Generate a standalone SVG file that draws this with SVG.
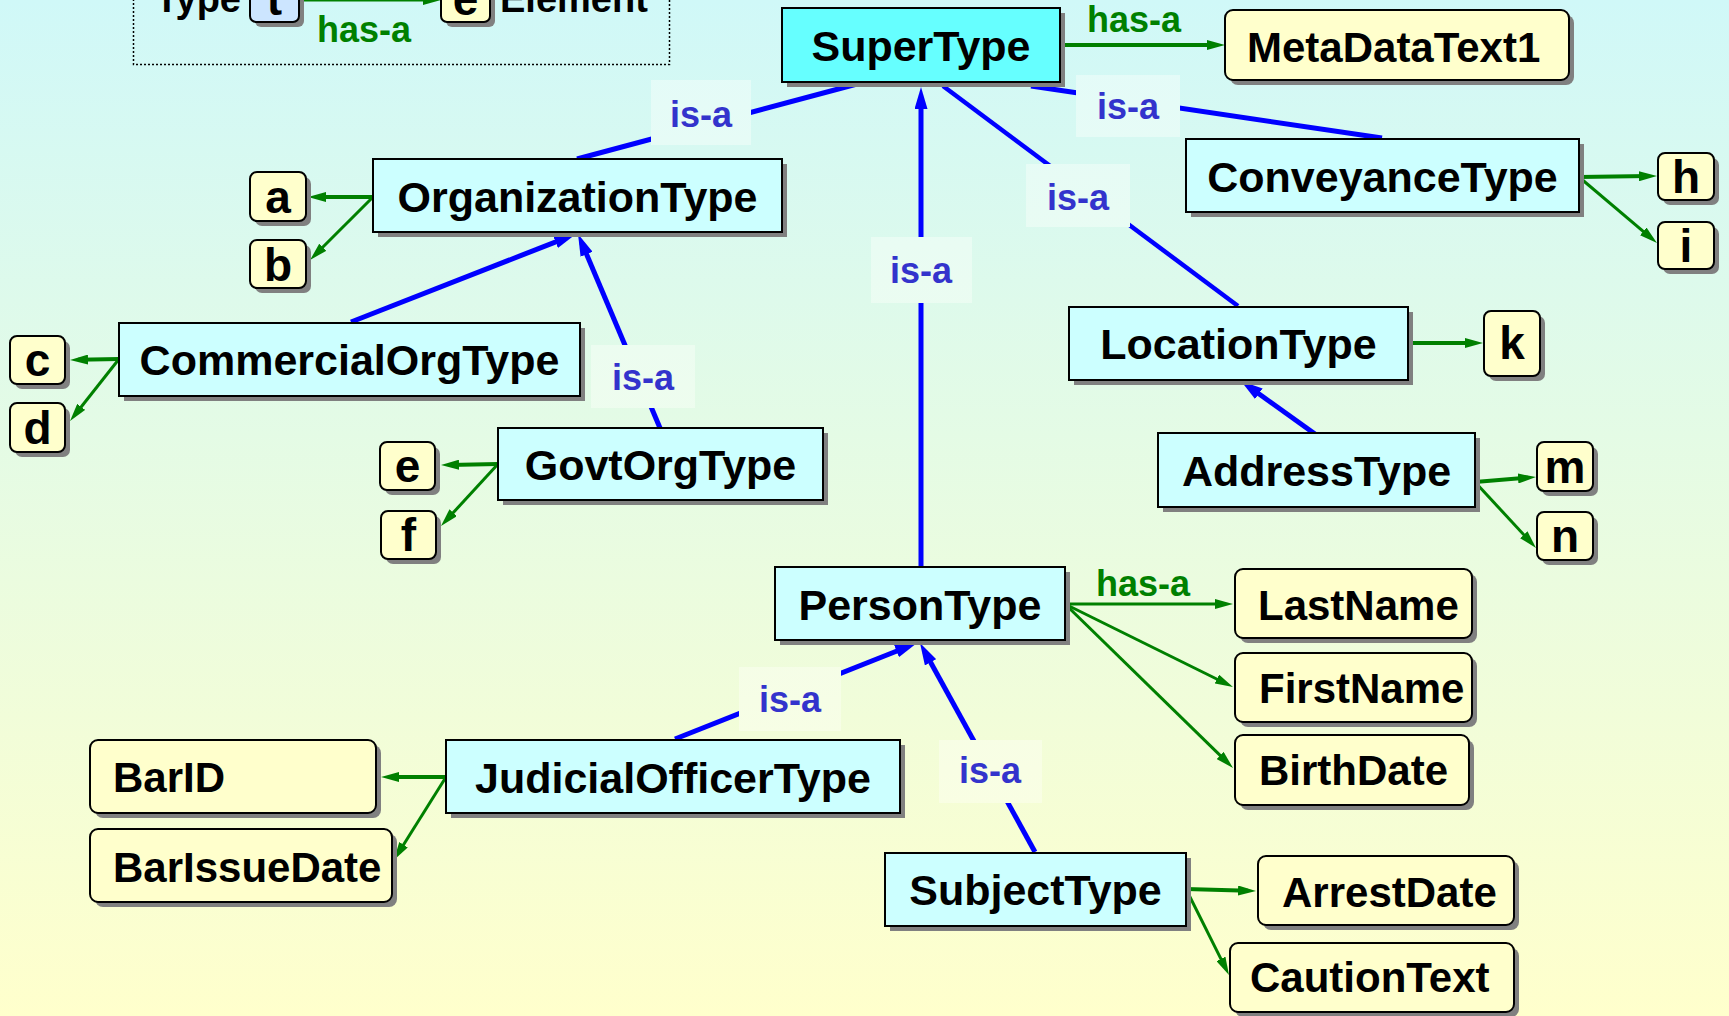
<svg xmlns="http://www.w3.org/2000/svg" width="1729" height="1016" viewBox="0 0 1729 1016">
  <defs>
    <linearGradient id="bg" x1="0" y1="0" x2="0" y2="1016" gradientUnits="userSpaceOnUse">
      <stop offset="0" stop-color="#d0f8f8"/>
      <stop offset="1" stop-color="#ffffcc"/>
    </linearGradient>
    <linearGradient id="lblbg" x1="0" y1="0" x2="0" y2="1016" gradientUnits="userSpaceOnUse">
      <stop offset="0" stop-color="#e2fbfa"/>
      <stop offset="1" stop-color="#ffffdd"/>
    </linearGradient>
    <marker id="isa" markerUnits="userSpaceOnUse" viewBox="0 0 22 13" refX="12" refY="6.5" markerWidth="22" markerHeight="13" orient="auto">
      <path d="M0,0 L22,6.5 L0,13 z" fill="#0000ff"/>
    </marker>
    <marker id="hasa" markerUnits="userSpaceOnUse" viewBox="0 0 18 10" refX="10" refY="5" markerWidth="18" markerHeight="10" orient="auto">
      <path d="M0,0 L18,5 L0,10 z" fill="#008000"/>
    </marker>
  </defs>
  <style>
    .shadow { fill: #808080; }
    .type { fill: #ccffff; stroke: #000; stroke-width: 2; }
    .super { fill: #66ffff; }
    .elem { fill: #ffffcc; stroke: #000; stroke-width: 2; }
    .tlegend { fill: #cce5ff; stroke: #000; stroke-width: 2; }
    .name { font-family: "Liberation Sans", Arial, sans-serif; font-weight: bold; font-size: 43px; fill: #000; }
    .ename { font-family: "Liberation Sans", Arial, sans-serif; font-weight: bold; font-size: 42px; fill: #000; }
    .mid { text-anchor: middle; }
    .letter { font-family: "Liberation Sans", Arial, sans-serif; font-weight: bold; font-size: 46px; fill: #000; text-anchor: middle; }
    .isa-line { stroke: #0000ff; stroke-width: 5; fill: none; }
    .has-line { stroke: #008000; stroke-width: 3; fill: none; }
    .has-line.thick { stroke-width: 4; }
    .isa-bg { fill: url(#lblbg); }
    .isa-txt { font-family: "Liberation Sans", Arial, sans-serif; font-weight: bold; font-size: 36px; fill: #3333cc; text-anchor: middle; }
    .has-txt { font-family: "Liberation Sans", Arial, sans-serif; font-weight: bold; font-size: 36px; fill: #008000; text-anchor: middle; }
    .legend-frame { fill: none; stroke: #000; stroke-width: 1.5; stroke-dasharray: 2 2; }
  </style>

  <rect x="0" y="0" width="1729" height="1016" fill="url(#bg)"/>

  <!-- legend -->
  <g id="legend">
    <rect class="legend-frame" x="133.5" y="-60" width="536" height="124.5"/>
    <text class="ename" x="241" y="12" text-anchor="end" style="font-size:38px">Type</text>
    <line class="has-line" x1="298" y1="0" x2="433" y2="0" marker-end="url(#hasa)"/>
    <rect class="shadow" x="255" y="-22" width="49" height="49" rx="6"/>
    <rect class="tlegend" x="250" y="-27" width="49" height="49" rx="6"/>
    <text class="letter" x="274.5" y="15">t</text>
    <rect class="shadow" x="446" y="-22" width="49" height="49" rx="6"/>
    <rect class="elem" x="441" y="-27" width="49" height="49" rx="6"/>
    <text class="letter" x="465.5" y="15">e</text>
    <text class="ename" x="500" y="12" style="font-size:38px">Element</text>
    <text class="has-txt" x="364" y="42">has-a</text>
  </g>

  <!-- connectors -->
  <g id="connectors">
    <!-- is-a (specialisation) -->
    <line class="isa-line" x1="577" y1="159" x2="857" y2="84"/>
    <line class="isa-line" x1="1031" y1="86" x2="1382" y2="138"/>
    <line class="isa-line" x1="943" y1="86" x2="1238" y2="306" style="stroke-width:4.5"/>
    <line class="isa-line" x1="921" y1="567" x2="921" y2="97" marker-end="url(#isa)"/>
    <line class="isa-line" x1="351" y1="322" x2="566.7" y2="237.6" marker-end="url(#isa)"/>
    <line class="isa-line" x1="660" y1="428" x2="581.9" y2="243.2" marker-end="url(#isa)"/>
    <line class="isa-line" x1="1315" y1="434" x2="1249.1" y2="386.8" marker-end="url(#isa)"/>
    <line class="isa-line" x1="675" y1="739" x2="907.7" y2="646.7" marker-end="url(#isa)"/>
    <line class="isa-line" x1="1035" y1="852" x2="924.8" y2="651.8" marker-end="url(#isa)"/>

    <!-- is-a labels -->
    <rect class="isa-bg" x="651" y="80" width="100" height="65"/>
    <text class="isa-txt" x="701" y="127">is-a</text>
    <rect class="isa-bg" x="1076" y="75" width="104" height="62"/>
    <text class="isa-txt" x="1128" y="119">is-a</text>
    <rect class="isa-bg" x="1026" y="164" width="104" height="63"/>
    <text class="isa-txt" x="1078" y="210">is-a</text>
    <rect class="isa-bg" x="871" y="237" width="101" height="66"/>
    <text class="isa-txt" x="921" y="283">is-a</text>
    <rect class="isa-bg" x="591" y="345" width="104" height="63"/>
    <text class="isa-txt" x="643" y="390">is-a</text>
    <rect class="isa-bg" x="739" y="667" width="102" height="64"/>
    <text class="isa-txt" x="790" y="712">is-a</text>
    <rect class="isa-bg" x="939" y="740" width="103" height="63"/>
    <text class="isa-txt" x="990" y="783">is-a</text>

    <!-- has-a (containment) -->
    <line class="has-line thick" x1="1060" y1="45" x2="1217" y2="45" marker-end="url(#hasa)"/>
    <text class="has-txt" x="1134" y="32">has-a</text>
    <line class="has-line thick" x1="1579" y1="177" x2="1649" y2="176.1" marker-end="url(#hasa)"/>
    <line class="has-line" x1="1579" y1="177" x2="1650.9" y2="237.8" marker-end="url(#hasa)"/>
    <line class="has-line thick" x1="373" y1="197" x2="316" y2="197" marker-end="url(#hasa)"/>
    <line class="has-line" x1="373" y1="197" x2="315.7" y2="254.3" marker-end="url(#hasa)"/>
    <line class="has-line thick" x1="119" y1="359" x2="78" y2="359.8" marker-end="url(#hasa)"/>
    <line class="has-line" x1="119" y1="359" x2="75" y2="414.7" marker-end="url(#hasa)"/>
    <line class="has-line thick" x1="498" y1="464" x2="449" y2="464.9" marker-end="url(#hasa)"/>
    <line class="has-line" x1="498" y1="464" x2="446.4" y2="520.1" marker-end="url(#hasa)"/>
    <line class="has-line thick" x1="1408" y1="343" x2="1475" y2="343" marker-end="url(#hasa)"/>
    <line class="has-line thick" x1="1475" y1="482" x2="1528" y2="477.7" marker-end="url(#hasa)"/>
    <line class="has-line" x1="1475" y1="482" x2="1530.6" y2="542.1" marker-end="url(#hasa)"/>
    <line class="has-line" x1="1065" y1="604" x2="1225" y2="604" marker-end="url(#hasa)"/>
    <text class="has-txt" x="1143" y="596">has-a</text>
    <line class="has-line" x1="1065" y1="604" x2="1225.8" y2="683.5" marker-end="url(#hasa)"/>
    <line class="has-line" x1="1065" y1="604" x2="1227.3" y2="762.4" marker-end="url(#hasa)"/>
    <line class="has-line thick" x1="1186" y1="889" x2="1248" y2="890.8" marker-end="url(#hasa)"/>
    <line class="has-line" x1="1186" y1="889" x2="1225.4" y2="967.8" marker-end="url(#hasa)"/>
    <line class="has-line thick" x1="446" y1="777" x2="389" y2="777" marker-end="url(#hasa)"/>
    <line class="has-line" x1="446" y1="777" x2="398.2" y2="853.2" marker-end="url(#hasa)"/>
  </g>

  <!-- type nodes -->
  <g id="SuperType">
    <rect class="shadow" x="787" y="13" width="278" height="74"/>
    <rect class="type super" x="782" y="8" width="278" height="74"/>
    <text class="name mid" x="921" y="61">SuperType</text>
  </g>
  <g id="OrganizationType">
    <rect class="shadow" x="378" y="164" width="409" height="73"/>
    <rect class="type" x="373" y="159" width="409" height="73"/>
    <text class="name mid" x="577.5" y="212">OrganizationType</text>
  </g>
  <g id="CommercialOrgType">
    <rect class="shadow" x="124" y="328" width="461" height="73"/>
    <rect class="type" x="119" y="323" width="461" height="73"/>
    <text class="name mid" x="349.5" y="375">CommercialOrgType</text>
  </g>
  <g id="GovtOrgType">
    <rect class="shadow" x="503" y="433" width="325" height="72"/>
    <rect class="type" x="498" y="428" width="325" height="72"/>
    <text class="name mid" x="660.5" y="480">GovtOrgType</text>
  </g>
  <g id="ConveyanceType">
    <rect class="shadow" x="1191" y="144" width="393" height="73"/>
    <rect class="type" x="1186" y="139" width="393" height="73"/>
    <text class="name mid" x="1382.5" y="192">ConveyanceType</text>
  </g>
  <g id="LocationType">
    <rect class="shadow" x="1074" y="312" width="339" height="73"/>
    <rect class="type" x="1069" y="307" width="339" height="73"/>
    <text class="name mid" x="1238.5" y="359">LocationType</text>
  </g>
  <g id="AddressType">
    <rect class="shadow" x="1163" y="438" width="317" height="74"/>
    <rect class="type" x="1158" y="433" width="317" height="74"/>
    <text class="name mid" x="1316.5" y="486">AddressType</text>
  </g>
  <g id="PersonType">
    <rect class="shadow" x="780" y="572" width="290" height="73"/>
    <rect class="type" x="775" y="567" width="290" height="73"/>
    <text class="name mid" x="920" y="620">PersonType</text>
  </g>
  <g id="JudicialOfficerType">
    <rect class="shadow" x="451" y="745" width="454" height="73"/>
    <rect class="type" x="446" y="740" width="454" height="73"/>
    <text class="name mid" x="673" y="793">JudicialOfficerType</text>
  </g>
  <g id="SubjectType">
    <rect class="shadow" x="890" y="858" width="301" height="73"/>
    <rect class="type" x="885" y="853" width="301" height="73"/>
    <text class="name mid" x="1035.5" y="905">SubjectType</text>
  </g>

  <!-- element nodes -->
  <g id="MetaDataText1">
    <rect class="shadow" x="1230" y="15" width="344" height="70" rx="8"/>
    <rect class="elem" x="1225" y="10" width="344" height="70" rx="8"/>
    <text class="ename" x="1247" y="62">MetaDataText1</text>
  </g>
  <g id="LastName">
    <rect class="shadow" x="1240" y="574" width="237" height="69" rx="8"/>
    <rect class="elem" x="1235" y="569" width="237" height="69" rx="8"/>
    <text class="ename" x="1258" y="620">LastName</text>
  </g>
  <g id="FirstName">
    <rect class="shadow" x="1240" y="658" width="237" height="69" rx="8"/>
    <rect class="elem" x="1235" y="653" width="237" height="69" rx="8"/>
    <text class="ename" x="1259" y="703">FirstName</text>
  </g>
  <g id="BirthDate">
    <rect class="shadow" x="1240" y="740" width="234" height="70" rx="8"/>
    <rect class="elem" x="1235" y="735" width="234" height="70" rx="8"/>
    <text class="ename" x="1259" y="785">BirthDate</text>
  </g>
  <g id="ArrestDate">
    <rect class="shadow" x="1263" y="861" width="256" height="69" rx="8"/>
    <rect class="elem" x="1258" y="856" width="256" height="69" rx="8"/>
    <text class="ename" x="1282" y="907">ArrestDate</text>
  </g>
  <g id="CautionText">
    <rect class="shadow" x="1235" y="948" width="284" height="69" rx="8"/>
    <rect class="elem" x="1230" y="943" width="284" height="69" rx="8"/>
    <text class="ename" x="1250" y="992">CautionText</text>
  </g>
  <g id="BarID">
    <rect class="shadow" x="95" y="745" width="286" height="73" rx="8"/>
    <rect class="elem" x="90" y="740" width="286" height="73" rx="8"/>
    <text class="ename" x="113" y="792">BarID</text>
  </g>
  <g id="BarIssueDate">
    <rect class="shadow" x="95" y="834" width="302" height="73" rx="8"/>
    <rect class="elem" x="90" y="829" width="302" height="73" rx="8"/>
    <text class="ename" x="113" y="882">BarIssueDate</text>
  </g>

  <!-- single-letter element nodes -->
  <g id="a">
    <rect class="shadow" x="255" y="177" width="56" height="49" rx="7"/>
    <rect class="elem" x="250" y="172" width="56" height="49" rx="7"/>
    <text class="letter" x="278" y="213">a</text>
  </g>
  <g id="b">
    <rect class="shadow" x="255" y="245" width="56" height="48" rx="7"/>
    <rect class="elem" x="250" y="240" width="56" height="48" rx="7"/>
    <text class="letter" x="278" y="281">b</text>
  </g>
  <g id="c">
    <rect class="shadow" x="15" y="341" width="55" height="48" rx="7"/>
    <rect class="elem" x="10" y="336" width="55" height="48" rx="7"/>
    <text class="letter" x="37.5" y="376">c</text>
  </g>
  <g id="d">
    <rect class="shadow" x="15" y="408" width="55" height="49" rx="7"/>
    <rect class="elem" x="10" y="403" width="55" height="49" rx="7"/>
    <text class="letter" x="37.5" y="444">d</text>
  </g>
  <g id="e">
    <rect class="shadow" x="385" y="447" width="55" height="48" rx="7"/>
    <rect class="elem" x="380" y="442" width="55" height="48" rx="7"/>
    <text class="letter" x="407.5" y="482">e</text>
  </g>
  <g id="f">
    <rect class="shadow" x="386" y="516" width="55" height="48" rx="7"/>
    <rect class="elem" x="381" y="511" width="55" height="48" rx="7"/>
    <text class="letter" x="408.5" y="551">f</text>
  </g>
  <g id="h">
    <rect class="shadow" x="1663" y="158" width="56" height="47" rx="7"/>
    <rect class="elem" x="1658" y="153" width="56" height="47" rx="7"/>
    <text class="letter" x="1686" y="193">h</text>
  </g>
  <g id="i">
    <rect class="shadow" x="1663" y="227" width="56" height="47" rx="7"/>
    <rect class="elem" x="1658" y="222" width="56" height="47" rx="7"/>
    <text class="letter" x="1686" y="262">i</text>
  </g>
  <g id="k">
    <rect class="shadow" x="1489" y="316" width="56" height="65" rx="7"/>
    <rect class="elem" x="1484" y="311" width="56" height="65" rx="7"/>
    <text class="letter" x="1512" y="359">k</text>
  </g>
  <g id="m">
    <rect class="shadow" x="1542" y="447" width="56" height="49" rx="7"/>
    <rect class="elem" x="1537" y="442" width="56" height="49" rx="7"/>
    <text class="letter" x="1565" y="483">m</text>
  </g>
  <g id="n">
    <rect class="shadow" x="1542" y="517" width="56" height="48" rx="7"/>
    <rect class="elem" x="1537" y="512" width="56" height="48" rx="7"/>
    <text class="letter" x="1565" y="552">n</text>
  </g>
</svg>
